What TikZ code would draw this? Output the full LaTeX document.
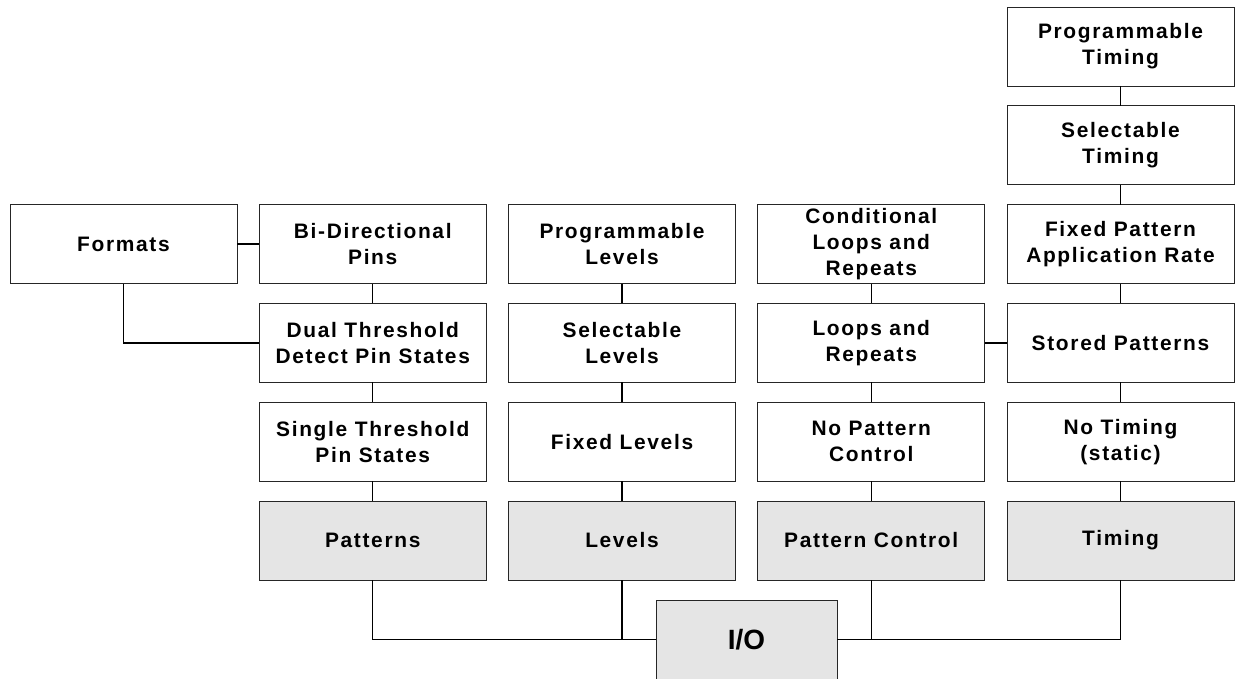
\documentclass[tikz,border=0pt]{standalone}
\usepackage{fontspec}
\setmainfont{Liberation Sans}[LetterSpace=8]
\newfontfamily\iofont{Liberation Sans}
\begin{document}
\begin{tikzpicture}[x=1bp,y=-1bp,
  box/.style={draw=black!85,line width=0.9bp,minimum width=227bp,minimum height=79bp,inner sep=0pt,outer sep=0pt,align=center,font=\bfseries\fontsize{21}{26}\selectfont},
  gbox/.style={box,fill=black!10},
  conn/.style={draw=black,line width=1.3bp}]
\useasboundingbox (0,0) rectangle (1235,679);
% columns: 123.5, 372.75, 622, 871.25, 1120.5
% rows: 46.5, 145.3, 244.1, 342.9, 441.7, 540.5
\node[box] (pt) at (1120.5,46.5) {Programmable\\Timing};
\node[box] (st) at (1120.5,145.3) {Selectable\\Timing};
\node[box] (fmt) at (123.5,244.1) {Formats};
\node[box] (bdp) at (372.75,244.1) {Bi-Directional\\Pins};
\node[box] (pl) at (622,244.1) {Programmable\\Levels};
\node[box] (clr) at (871.25,244.1) {Conditional\\Loops and\\Repeats};
\node[box] (fpa) at (1120.5,244.1) {Fixed Pattern\\Application Rate};
\node[box] (dt) at (372.75,342.9) {Dual Threshold\\Detect Pin States};
\node[box] (sl) at (622,342.9) {Selectable\\Levels};
\node[box] (lr) at (871.25,342.9) {Loops and\\Repeats};
\node[box] (sp) at (1120.5,342.9) {Stored Patterns};
\node[box] (stp) at (372.75,441.7) {Single Threshold\\Pin States};
\node[box] (fl) at (622,441.7) {Fixed Levels};
\node[box] (npc) at (871.25,441.7) {No Pattern\\Control};
\node[box] (nt) at (1120.5,441.7) {No Timing\\(static)};
\node[gbox] (pat) at (372.75,540.5) {Patterns};
\node[gbox] (lev) at (622,540.5) {Levels};
\node[gbox] (pc) at (871.25,540.5) {Pattern Control};
\node[gbox] (tim) at (1120.5,540.5) {Timing};
\node[gbox,minimum width=181bp,font=\iofont\bfseries\fontsize{28}{34}\selectfont] (io) at (746.5,639.5) {I/O};
% vertical chains
\draw[conn] (pt) -- (st);
\draw[conn] (st) -- (fpa);
\draw[conn] (fpa) -- (sp);
\draw[conn] (sp) -- (nt);
\draw[conn] (nt) -- (tim);
\draw[conn] (bdp) -- (dt);
\draw[conn] (dt) -- (stp);
\draw[conn] (stp) -- (pat);
\draw[conn] (pl) -- (sl);
\draw[conn] (sl) -- (fl);
\draw[conn] (fl) -- (lev);
\draw[conn] (clr) -- (lr);
\draw[conn] (lr) -- (npc);
\draw[conn] (npc) -- (pc);
% side links
\draw[conn] (fmt) -- (bdp);
\draw[conn] (lr) -- (sp);
\draw[conn] (fmt.south) |- (dt.west);
% bottom to I/O
\draw[conn] (pat.south) |- (io.west);
\draw[conn] (lev.south) -- (lev.south |- io.west);
\draw[conn] (tim.south) |- (io.east);
\draw[conn] (pc.south) -- (pc.south |- io.east);
\end{tikzpicture}
\end{document}
